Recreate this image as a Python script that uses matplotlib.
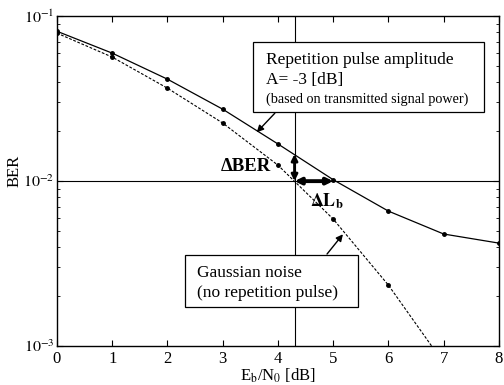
import matplotlib
matplotlib.use("Agg")
import matplotlib.pyplot as plt
from matplotlib.patches import Rectangle
from matplotlib.ticker import LogLocator, NullFormatter, FixedLocator, FixedFormatter

plt.rcParams['font.family'] = ['Liberation Serif', 'DejaVu Serif']
plt.rcParams['mathtext.fontset'] = 'stix'

ebn0 = [0, 1, 2, 3, 4, 5, 6, 7, 8]
ber_repetition = [0.081, 0.0597, 0.0415, 0.0273, 0.0168, 0.0102, 0.00658, 0.00478, 0.00421]
ebn0_gauss = [0, 1, 2, 3, 4, 5, 6, 7]
ber_gauss = [0.0789, 0.0565, 0.0366, 0.0225, 0.0125, 0.00589, 0.00234, 0.00079]
y_ticks = [1e-3, 1e-2, 1e-1]
y_tick_labels = [r'$10^{-3}$', r'$10^{-2}$', r'$10^{-1}$']

ref_ebn0 = 4.3
ref_ber = 1e-2
ebn0_at_ref = 5.0
ber_at_ref = 0.0146

fig = plt.figure(figsize=(5.04, 3.85), dpi=100)
ax = fig.add_axes([0.113, 0.101, 0.877, 0.857])

ax.plot(ebn0, ber_repetition, '-', color='black', lw=0.9, marker='o', ms=2.5)
ax.plot(ebn0_gauss, ber_gauss, '--', color='black', lw=0.8, marker='o', ms=2.5,
        dashes=(2.5, 1.5))

ax.set_yscale('log')
ax.set_xlim(0, 8)
ax.set_ylim(1e-3, 1e-1)
ax.xaxis.set_major_locator(FixedLocator(range(0, 9)))
ax.yaxis.set_major_locator(FixedLocator(y_ticks))
ax.yaxis.set_major_formatter(FixedFormatter(y_tick_labels))
ax.yaxis.set_minor_locator(LogLocator(base=10, subs=range(2, 10), numticks=10))
ax.yaxis.set_minor_formatter(NullFormatter())
ax.tick_params(which='both', direction='in', top=True, right=True, labelsize=12)
ax.tick_params(axis='y', which='major', labelsize=11.5, pad=2)
ax.tick_params(which='major', length=4, width=0.8)
ax.tick_params(which='minor', length=2.5, width=0.6)
for s in ax.spines.values():
    s.set_linewidth(1.0)

# reference lines
ax.axhline(ref_ber, color='black', lw=0.8)
ax.axvline(ref_ebn0, color='black', lw=0.8)

# delta arrows
ax.annotate('', xy=(ref_ebn0, ber_at_ref), xytext=(ref_ebn0, ref_ber),
            arrowprops=dict(arrowstyle='<|-|>', color='black', lw=2,
                            mutation_scale=9, shrinkA=0, shrinkB=0))
ax.annotate('', xy=(ebn0_at_ref, ref_ber), xytext=(ref_ebn0, ref_ber),
            arrowprops=dict(arrowstyle='<|-|>', color='black', lw=2.8,
                            mutation_scale=9, shrinkA=0, shrinkB=0))
ax.text(0.428, 0.545, 'ΔBER', transform=ax.transAxes, fontsize=13.5,
        fontweight='bold', ha='center', va='center')
ax.text(0.611, 0.438, r'$\mathbf{\Delta L_b}$', transform=ax.transAxes,
        fontsize=13, ha='center', va='center')

ax.set_xlabel(r'E$_\mathrm{b}$/N$_0$ [dB]', fontsize=12, labelpad=0)
ax.set_ylabel('BER', fontsize=12)
ax.yaxis.set_label_coords(-0.078, 0.53)

# annotation box: repetition pulse
ax.add_patch(Rectangle((0.443, 0.709), 0.523, 0.212, transform=ax.transAxes,
                       fc='white', ec='black', lw=0.9, zorder=4))
ax.text(0.473, 0.867, 'Repetition pulse amplitude', transform=ax.transAxes,
        fontsize=12.5, ha='left', va='center', zorder=5)
ax.text(0.473, 0.806, 'A= -3 [dB]', transform=ax.transAxes,
        fontsize=12.5, ha='left', va='center', zorder=5)
ax.text(0.473, 0.748, '(based on transmitted signal power)', transform=ax.transAxes,
        fontsize=10.2, ha='left', va='center', zorder=5)
ax.annotate('', xy=(0.452, 0.648), xytext=(0.493, 0.706),
            xycoords='axes fraction', textcoords='axes fraction',
            arrowprops=dict(arrowstyle='-|>', color='black', lw=1,
                            mutation_scale=10, shrinkA=0, shrinkB=0))

# annotation box: gaussian noise
ax.add_patch(Rectangle((0.290, 0.118), 0.391, 0.158, transform=ax.transAxes,
                       fc='white', ec='black', lw=0.9, zorder=4))
ax.text(0.317, 0.222, 'Gaussian noise', transform=ax.transAxes,
        fontsize=12.5, ha='left', va='center', zorder=5)
ax.text(0.317, 0.160, '(no repetition pulse)', transform=ax.transAxes,
        fontsize=12.5, ha='left', va='center', zorder=5)
ax.annotate('', xy=(0.647, 0.339), xytext=(0.611, 0.279),
            xycoords='axes fraction', textcoords='axes fraction',
            arrowprops=dict(arrowstyle='-|>', color='black', lw=1,
                            mutation_scale=10, shrinkA=0, shrinkB=0))

fig.savefig('out.png', dpi=100)
